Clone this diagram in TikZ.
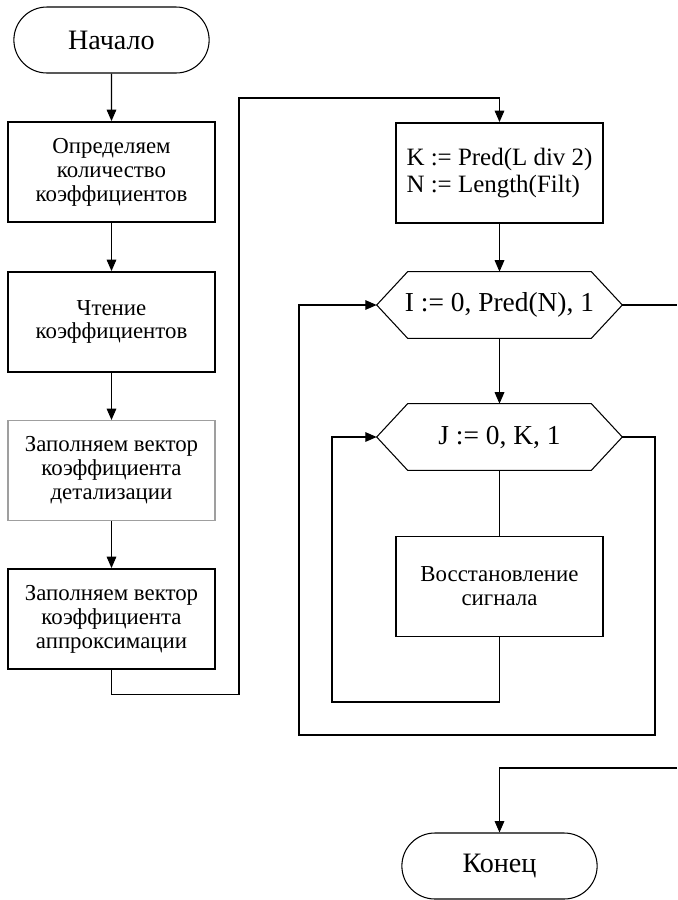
\documentclass[tikz,border=0pt]{standalone}
\usepackage{fontspec}
\setmainfont{Liberation Serif}
\usetikzlibrary{shapes.misc,arrows.meta,calc}

\tikzset{
    term/.style={rounded rectangle, draw, line width=0.6pt, minimum width=4.14cm, minimum height=1.32cm, font=\fontsize{16}{19}\selectfont},
    proc/.style={rectangle, draw, line width=1.1pt, minimum width=4.14cm, minimum height=2cm, align=center, font=\fontsize{13}{13.6}\selectfont},
    loophead/.style={rectangle, minimum width=4.9cm, minimum height=1.32cm, font=\fontsize{15.6}{18}\selectfont},
    line/.style={line width=0.6pt},
    >={Triangle[length=6.5pt,width=5.5pt]}
}

\newcommand\hexframe[1]{
    \draw[line] (#1.west) -- ($(#1.north west)+(31,0)$) -- ($(#1.north east)+(-31,0)$) -- (#1.east)
        -- ($(#1.south east)+(-31,0)$) -- ($(#1.south west)+(31,0)$) -- cycle;
}

\begin{document}
\begin{tikzpicture}[x=0.02cm,y=-0.02cm]
        \useasboundingbox (0,0) rectangle (677,900);

        % left column
        \node[term] (start) at (111.5,40) {Начало};
        \node[proc] (count) at (111.5,172) {Определяем\\количество\\коэффициентов};
        \node[proc] (read) at (111.5,322) {Чтение\\коэффициентов};
        \node[proc, draw=gray!75, line width=0.6pt] (detail) at (111.5,470.5) {Заполняем вектор\\коэффициента\\детализации};
        \node[proc] (approx) at (111.5,619) {Заполняем вектор\\коэффициента\\аппроксимации};

        \draw[line,->] (start) -- (count);
        \draw[line,->] (count) -- (read);
        \draw[line,->] (read) -- (detail);
        \draw[line,->] (detail) -- (approx);

        % right column
        \node[proc, align=left, font=\fontsize{14.2}{15.8}\selectfont] (init) at (499.5,173) {K := Pred(L div 2)\\N := Length(Filt)};
        \node[loophead] (loopI) at (499.5,305) {I := 0, Pred(N), 1\hspace{0.56cm}};
        \hexframe{loopI}
        \node[loophead] (loopJ) at (499.5,437) {J := 0, K, 1};
        \hexframe{loopJ}
        \node[proc] (restore) at (499.5,586.5) {Восстановление\\сигнала};
        \node[term] (stop) at (499.5,866) {Конец};

        \coordinate (jump) at (239,98);
        \draw[line,->] (approx.south) -- ++(0,25) -| (jump) -| (init.north);

        \draw[line,->] (init) -- (loopI);
        \draw[line,->] (loopI) -- (loopJ);
        \draw[line] (loopJ) -- (restore);

        % inner loop
        \coordinate (innerL) at (332,702);
        \draw[line,->] (restore.south) |- (innerL) |- (loopJ.west);

        % outer loop
        \coordinate (outerR) at (655,735);
        \coordinate (outerL) at (299,735);
        \draw[line,->] (loopJ.east) -| (outerR) -- (outerL) |- (loopI.west);

        % exit
        \coordinate (exitA) at (677,305);
        \coordinate (exitB) at (677,768);
        \draw[line] (loopI.east) -- (exitA);
        \draw[line,->] (exitB) -| (stop.north);
\end{tikzpicture}
\end{document}
